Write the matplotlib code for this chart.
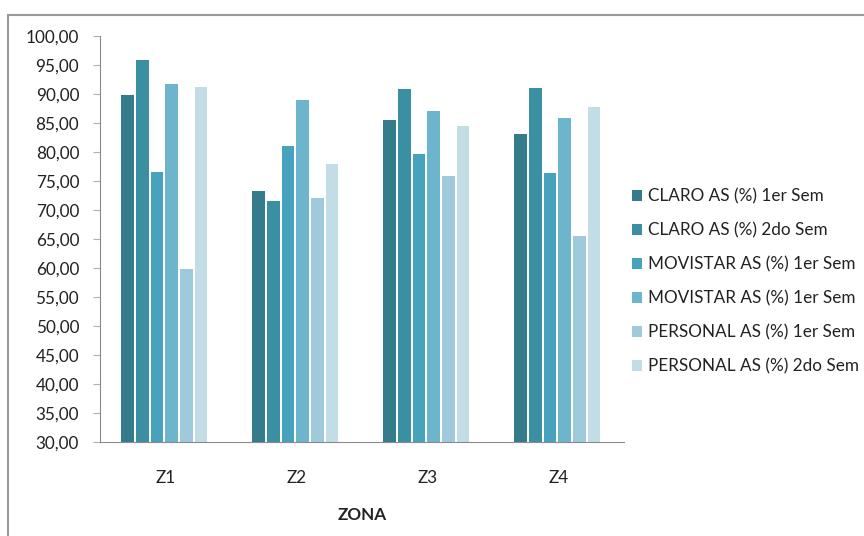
import matplotlib
matplotlib.use('Agg')
import numpy as np
from matplotlib import pyplot as plt
from matplotlib.patches import Rectangle
from matplotlib.ticker import FuncFormatter

# datos
zonas = ['Z1', 'Z2', 'Z3', 'Z4']
series = ['CLARO AS (%) 1er Sem', 'CLARO AS (%) 2do Sem',
          'MOVISTAR AS (%) 1er Sem', 'MOVISTAR AS (%) 1er Sem',
          'PERSONAL AS (%) 1er Sem', 'PERSONAL AS (%) 2do Sem']
claro_1 = [89.8, 73.3, 85.5, 83.1]
claro_2 = [95.9, 71.6, 90.8, 91.1]
movistar_1 = [76.6, 81.0, 79.7, 76.3]
movistar_2 = [91.7, 89.0, 87.1, 85.8]
personal_1 = [59.9, 72.1, 75.9, 65.6]
personal_2 = [91.2, 77.9, 84.4, 87.8]
valores = [claro_1, claro_2, movistar_1, movistar_2, personal_1, personal_2]
colores = ['#347b8c', '#3b8fa3', '#47a3bd', '#6db5cc', '#9fcadb', '#c2dde5']

plt.rcParams['font.family'] = ['Lato', 'DejaVu Sans']

fig = plt.figure(figsize=(8.64, 5.36), dpi=100)
ax = fig.add_axes([100 / 864, 94 / 536, 524 / 864, 406 / 536])

# marco exterior
fig.patches.append(Rectangle((8 / 864, -0.01), 1.0, 1.01 - 15 / 536,
                             transform=fig.transFigure, fill=False,
                             edgecolor='#9a9a9a', linewidth=1.5))

x = np.arange(len(zonas))
slot = 0.112
ancho = 0.097
for i, (vals, nombre, c) in enumerate(zip(valores, series, colores)):
    ax.bar(x + (i - 2.5) * slot - 0.01, np.array(vals) - 30, bottom=30, width=ancho,
           color=c, label=nombre)

ax.set_xlim(-0.5, 3.5)
ax.set_ylim(30, 100)
ax.set_yticks(np.arange(30, 101, 5))
ax.yaxis.set_major_formatter(FuncFormatter(lambda v, p: f'{v:.2f}'.replace('.', ',')))
ax.set_xticks(x)
ax.set_xticklabels(zonas)
ax.tick_params(axis='y', length=5, color='#b0b0b0', labelsize=12.3, pad=10,
               labelcolor='#222222')
ax.tick_params(axis='x', length=0, labelsize=12.3, pad=20, labelcolor='#222222')
for s in ['top', 'right']:
    ax.spines[s].set_visible(False)
ax.spines['left'].set_color('#8a8a8a')
ax.spines['bottom'].set_color('#8a8a8a')
ax.set_xlabel('ZONA', fontweight='bold', fontsize=12.3, labelpad=15,
              color='#222222')

ax.legend(loc='center left', bbox_to_anchor=(0.985, 0.395), frameon=False,
          fontsize=12.3, handlelength=0.6, handleheight=0.6, handletextpad=0.35,
          labelspacing=1.05, labelcolor='#222222')

fig.savefig('out.png', dpi=100)
